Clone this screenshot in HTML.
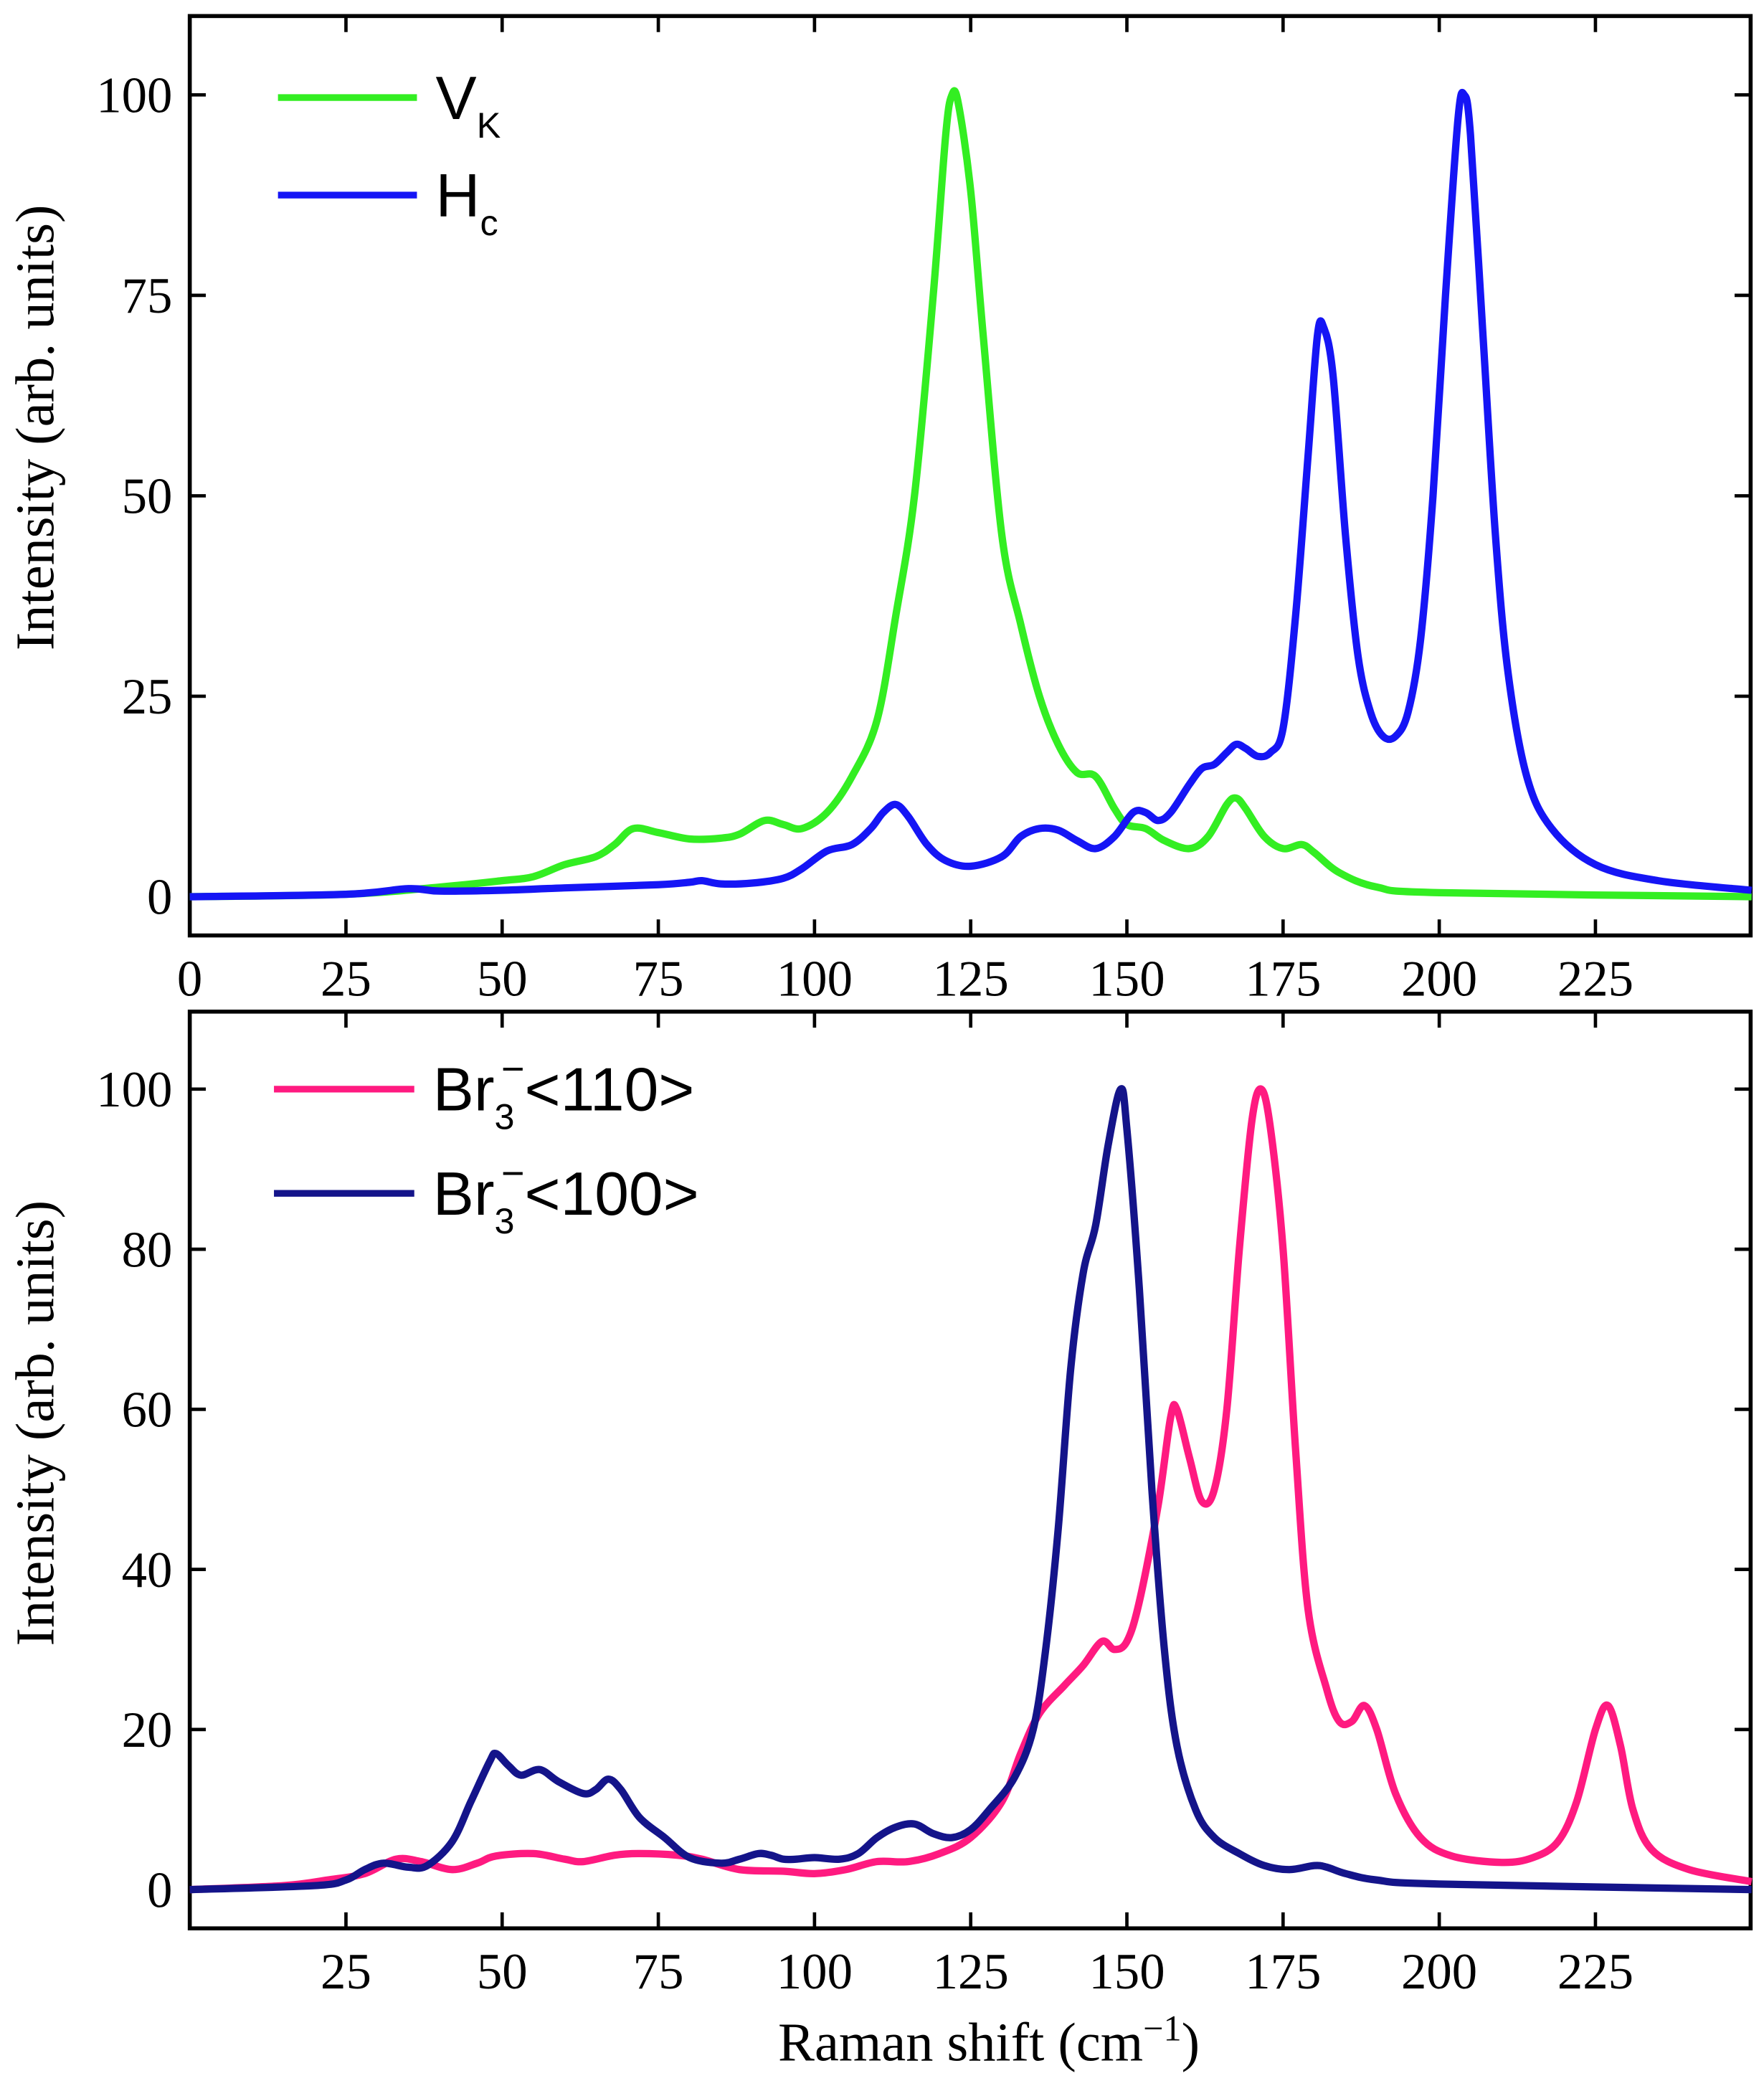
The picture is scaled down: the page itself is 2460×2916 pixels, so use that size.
<!DOCTYPE html>
<html><head><meta charset="utf-8"><style>html,body{margin:0;padding:0;background:#fff}svg{display:block}</style></head>
<body>
<svg id="s" width="2460" height="2916" viewBox="0 0 1320 1564.7" xmlns="http://www.w3.org/2000/svg">
<rect width="1320" height="1565" fill="#fff"/>
<g id="g"></g>
<g font-family="Liberation Serif, serif" fill="#000">
<text transform="translate(40,320) rotate(-90)" text-anchor="middle" font-size="41">Intensity (arb. units)</text>
<text transform="translate(40,1065) rotate(-90)" text-anchor="middle" font-size="41">Intensity (arb. units)</text>
<text x="740" y="1542" text-anchor="middle" font-size="41">Raman shift (cm<tspan dy="-15" font-size="27">−1</tspan><tspan dy="15">)</tspan></text>
</g>
<g font-family="Liberation Sans, sans-serif" font-size="46" fill="#000">
<line x1="208" y1="73" x2="312" y2="73" stroke="#33ee22" stroke-width="5"/>
<text x="326" y="89">V<tspan dy="14" font-size="27">K</tspan></text>
<line x1="208" y1="146" x2="312" y2="146" stroke="#1515f5" stroke-width="5"/>
<text x="326" y="162">H<tspan dy="14" font-size="27">c</tspan></text>
<line x1="205" y1="815" x2="310" y2="815" stroke="#ff1a80" stroke-width="5"/>
<text x="324" y="831">Br<tspan dy="14" font-size="27">3</tspan><tspan dx="-10" dy="-35" font-size="30">−</tspan><tspan dy="21">&lt;110&gt;</tspan></text>
<line x1="205" y1="893" x2="310" y2="893" stroke="#14148a" stroke-width="5"/>
<text x="324" y="909">Br<tspan dy="14" font-size="27">3</tspan><tspan dx="-10" dy="-35" font-size="30">−</tspan><tspan dy="21">&lt;100&gt;</tspan></text>
</g>
</svg>
<script>
const NS="http://www.w3.org/2000/svg",g=document.getElementById('g');
function el(t,a){const e=document.createElementNS(NS,t);for(const k in a)e.setAttribute(k,a[k]);g.appendChild(e);return e;}
const X=x=>142+x*4.675;
function panel(top,bot,y0,ys,yt,xt){
 el('rect',{x:142,y:top,width:1168,height:bot-top,fill:'none',stroke:'#000','stroke-width':3});
 for(const v of yt){const y=y0-v*ys;
  el('line',{x1:142,y1:y,x2:154,y2:y,stroke:'#000','stroke-width':2.5});
  el('line',{x1:1310,y1:y,x2:1298,y2:y,stroke:'#000','stroke-width':2.5});
  const t=el('text',{x:129,y:y+13,'text-anchor':'end','font-family':'Liberation Serif, serif','font-size':38});t.textContent=v;}
 for(const v of [0,25,50,75,100,125,150,175,200,225]){const x=X(v);
  el('line',{x1:x,y1:bot,x2:x,y2:bot-12,stroke:'#000','stroke-width':2.5});
  el('line',{x1:x,y1:top,x2:x,y2:top+12,stroke:'#000','stroke-width':2.5});
  if(xt.includes(v)){const t=el('text',{x:x,y:bot+45,'text-anchor':'middle','font-family':'Liberation Serif, serif','font-size':38});t.textContent=v;}}
}
function curve(d,y0,ys,col){
 const p=d.map(a=>[X(a[0]),y0-a[1]*ys]);let s='M'+p[0];
 for(let i=0;i<p.length-1;i++){const a=p[Math.max(0,i-1)],b=p[i],c=p[i+1],e=p[Math.min(p.length-1,i+2)];
  const c1=[b[0]+(c[0]-a[0])/6,b[1]+(c[1]-a[1])/6],c2=[c[0]-(e[0]-b[0])/6,c[1]-(e[1]-b[1])/6];
  s+=' C'+c1+' '+c2+' '+c;}
 el('path',{d:s,fill:'none',stroke:col,'stroke-width':5.5,'stroke-linejoin':'round'});
}
panel(12,700,671,6,[0,25,50,75,100],[0,25,50,75,100,125,150,175,200,225]);
panel(757,1443,1414,5.99,[0,20,40,60,80,100],[25,50,75,100,125,150,175,200,225]);
const vk=[[0,0],[25,0.3],[40,1.2],[50,2],[55,2.5],[60,4],[65,5],[68,6.5],[71,8.5],[75,8],[80,7.2],[85,7.3],[88,7.8],[92,9.5],[95,9],[98,8.5],[102,10.5],[106,15],[110,22],[113,35],[116,50],[119,75],[121,95],[122,100],[123,99],[125,88],[127,70],[130,45],[133,34],[136,25],[139,19],[142,15.5],[145,15],[148,11],[150,9],[153,8.5],[156,7],[160,6],[163,7.5],[166,11.5],[167.5,12.3],[169,11],[172,7.5],[175,6],[178,6.5],[180,5.5],[184,3],[190,1.2],[200,0.5],[250,0]];
const hc=[[0,0],[25,0.3],[35,1],[40,0.7],[50,0.8],[60,1.1],[75,1.5],[80,1.8],[82,2],[85,1.6],[90,1.7],[95,2.3],[98,3.5],[102,5.7],[106,6.5],[109,8.5],[111,10.5],[113,11.5],[115,10],[118,6.5],[121,4.5],[125,3.8],[130,5],[133,7.5],[136,8.5],[139,8.3],[142,7],[145,6],[148,7.5],[151,10.5],[153,10.5],[155,9.5],[157,10.5],[160,14],[162,16],[164,16.5],[166,18],[167.5,19],[169,18.5],[171,17.5],[173,18],[175,21],[177,35],[179,55],[180.5,70],[181.5,71],[183,65],[185,45],[187,30],[189,23],[191,20],[193,20],[195,23],[197,32],[199,50],[201,75],[203,97],[204,100],[205,95],[207,70],[209,45],[211,28],[214,15],[218,8.5],[225,4],[235,2],[250,0.8]];
const pk=[[0,0],[15,0.5],[22,1.2],[28,2],[33,3.8],[37,3.5],[42,2.5],[46,3.3],[49,4.2],[55,4.5],[60,3.8],[63,3.5],[68,4.3],[72,4.5],[78,4.3],[82,3.8],[88,2.5],[95,2.3],[100,2],[105,2.5],[110,3.5],[115,3.5],[120,4.5],[125,6.5],[130,11],[133,17],[136,22],[140,25.5],[143,28],[146,31],[148,30],[150,31],[152,36],[155,48],[157,59],[158,60],[160,54],[162,48.5],[164,50],[166,60],[168,80],[170,96],[171.5,100],[173,95],[175,80],[177,55],[179,35],[182,25],[184,21],[186,21],[188,23],[190,20],[193,12],[197,6.5],[202,4.2],[210,3.4],[215,4],[219,6],[222,11],[225,20],[227,23],[229,18],[231,10],[234,5],[240,2.5],[250,1]];
const nv=[[0,0],[20,0.5],[25,1.2],[28,2.5],[31,3.3],[35,2.8],[38,3],[42,6],[45,11],[48,16],[49,17],[51,15.5],[53,14.3],[56,15],[59,13.5],[63,12],[65,12.5],[67,13.8],[69,12.5],[72,9],[76,6.5],[80,4],[85,3.3],[88,3.8],[91,4.5],[93,4.3],[95,3.8],[97,3.8],[100,4],[104,3.8],[107,4.5],[110,6.5],[113,7.8],[116,8.2],[119,7],[122,6.5],[125,7.5],[128,10],[132,14],[135,20],[137,30],[139,45],[141,65],[143,77],[145,83],[147,93],[149,100],[150,95],[152,75],[154,50],[156,30],[158,18],[161,10],[164,6.5],[168,4.5],[172,3],[176,2.5],[180,3],[182,2.8],[185,2],[190,1.2],[200,0.7],[250,0]];
curve(vk,671,6,'#33ee22');curve(hc,671,6,'#1515f5');
curve(pk,1414,5.99,'#ff1a80');curve(nv,1414,5.99,'#14148a');
</script>
</body></html>
